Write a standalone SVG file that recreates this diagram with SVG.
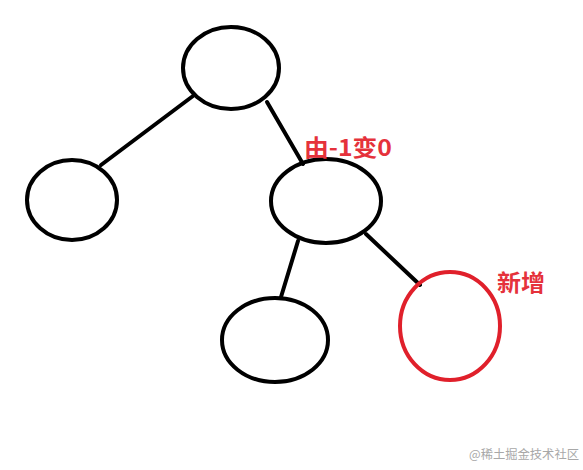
<svg xmlns="http://www.w3.org/2000/svg" width="583" height="470" viewBox="0 0 583 470">
<style>
.n{fill:none;stroke:#000;stroke-width:4}
.r{fill:none;stroke:#e0202b;stroke-width:4}
.e{stroke:#000;stroke-width:4;stroke-linecap:round}
.t{font-family:"Noto Sans CJK SC","Noto Sans",sans-serif;font-weight:bold;font-size:23px;fill:#e5323b}
.w{font-family:"Noto Sans CJK SC",sans-serif;font-size:12.3px;fill:#a8a8a8}
</style>
<rect width="583" height="470" fill="#fff"/>
<g id="edges">
<line class="e" x1="193" y1="96" x2="101" y2="165"/>
<line class="e" x1="267" y1="102" x2="303" y2="164"/>
<line class="e" x1="298" y1="241" x2="281" y2="297"/>
<line class="e" x1="366" y1="234" x2="420" y2="285"/>
</g>
<g id="root"><ellipse class="n" cx="231" cy="68" rx="48" ry="41"/></g>
<g id="left"><ellipse class="n" cx="72" cy="200" rx="45" ry="40"/></g>
<g id="mid"><ellipse class="n" cx="326" cy="201" rx="55" ry="42"/><text class="t" x="304" y="156" textLength="88" lengthAdjust="spacingAndGlyphs">由-1变0</text></g>
<g id="midleft"><ellipse class="n" cx="275" cy="340" rx="53" ry="42"/></g>
<g id="new"><ellipse class="r" cx="450" cy="326" rx="50" ry="54"/><text class="t" x="497" y="291" textLength="48" lengthAdjust="spacingAndGlyphs">新增</text></g>
<text class="w" x="469" y="459">@稀土掘金技术社区</text>
</svg>
